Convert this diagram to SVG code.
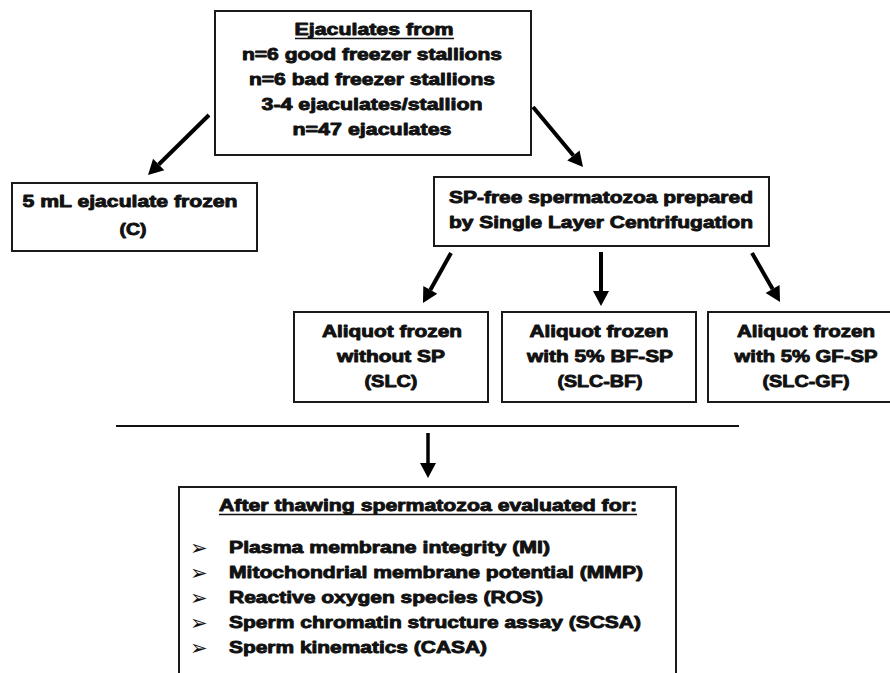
<svg xmlns="http://www.w3.org/2000/svg" width="890" height="673" viewBox="0 0 890 673">
<style>
.box{fill:#fff;stroke:#1a1a1a;stroke-width:2}
.t{font-family:"Liberation Sans",Arial,sans-serif;font-weight:bold;font-size:17px;fill:#111;stroke:#111;stroke-width:0.9;stroke-linejoin:round;text-anchor:middle}
.l{text-anchor:start}
.u{stroke:#111;stroke-width:1.6}
.arr{stroke:#000;stroke-width:4;fill:none;marker-end:url(#head)}
.bul{font-family:"DejaVu Sans",sans-serif;font-size:21px;fill:#111}
</style>
<defs>
<marker id="head" markerUnits="userSpaceOnUse" markerWidth="16" markerHeight="18" refX="0" refY="8" viewBox="0 -1 16 18" orient="auto" overflow="visible">
<path d="M0,0 L15,8 L0,16 z" fill="#000"/>
</marker>
</defs>
<rect width="890" height="673" fill="#fff"/>

<g id="source">
<rect class="box" x="215" y="11" width="316" height="144"/>
<text class="t" x="374" y="35" textLength="159" lengthAdjust="spacingAndGlyphs">Ejaculates from</text>
<line class="u" x1="295" y1="38.5" x2="454" y2="38.5"/>
<text class="t" x="372" y="60" textLength="260" lengthAdjust="spacingAndGlyphs">n=6 good freezer stallions</text>
<text class="t" x="372" y="85" textLength="246" lengthAdjust="spacingAndGlyphs">n=6 bad freezer stallions</text>
<text class="t" x="372" y="110" textLength="221" lengthAdjust="spacingAndGlyphs">3-4 ejaculates/stallion</text>
<text class="t" x="372" y="135" textLength="159" lengthAdjust="spacingAndGlyphs">n=47 ejaculates</text>
</g>

<g id="control">
<rect class="box" x="12" y="183" width="245" height="68"/>
<text class="t" x="130" y="207" textLength="215" lengthAdjust="spacingAndGlyphs">5 mL ejaculate frozen</text>
<text class="t" x="133" y="235" textLength="27" lengthAdjust="spacingAndGlyphs">(C)</text>
</g>

<g id="slc-prep">
<rect class="box" x="434" y="177" width="335" height="69"/>
<text class="t" x="601" y="203" textLength="304" lengthAdjust="spacingAndGlyphs">SP-free spermatozoa prepared</text>
<text class="t" x="601" y="228" textLength="304" lengthAdjust="spacingAndGlyphs">by Single Layer Centrifugation</text>
</g>

<g id="slc">
<rect class="box" x="294" y="312" width="194" height="90"/>
<text class="t" x="392" y="337" textLength="140" lengthAdjust="spacingAndGlyphs">Aliquot frozen</text>
<text class="t" x="391" y="362" textLength="108" lengthAdjust="spacingAndGlyphs">without SP</text>
<text class="t" x="391" y="387" textLength="53" lengthAdjust="spacingAndGlyphs">(SLC)</text>
</g>

<g id="slc-bf">
<rect class="box" x="502" y="312" width="194" height="90"/>
<text class="t" x="599" y="337" textLength="139" lengthAdjust="spacingAndGlyphs">Aliquot frozen</text>
<text class="t" x="600" y="362" textLength="146" lengthAdjust="spacingAndGlyphs">with 5% BF-SP</text>
<text class="t" x="600" y="387" textLength="85" lengthAdjust="spacingAndGlyphs">(SLC-BF)</text>
</g>

<g id="slc-gf">
<rect class="box" x="708" y="312" width="196" height="90"/>
<text class="t" x="806" y="337" textLength="138" lengthAdjust="spacingAndGlyphs">Aliquot frozen</text>
<text class="t" x="806" y="362" textLength="143" lengthAdjust="spacingAndGlyphs">with 5% GF-SP</text>
<text class="t" x="806" y="387" textLength="87" lengthAdjust="spacingAndGlyphs">(SLC-GF)</text>
</g>

<g id="evaluation">
<rect class="box" x="179" y="487" width="497" height="220"/>
<text class="t" x="428" y="511" textLength="418" lengthAdjust="spacingAndGlyphs">After thawing spermatozoa evaluated for:</text>
<line class="u" x1="219" y1="514.5" x2="637" y2="514.5"/>
<text class="bul" x="190" y="555">➢</text>
<text class="bul" x="190" y="580">➢</text>
<text class="bul" x="190" y="605">➢</text>
<text class="bul" x="190" y="630">➢</text>
<text class="bul" x="190" y="655">➢</text>
<text class="t l" x="229" y="553" textLength="321" lengthAdjust="spacingAndGlyphs">Plasma membrane integrity (MI)</text>
<text class="t l" x="229" y="578" textLength="414" lengthAdjust="spacingAndGlyphs">Mitochondrial membrane potential (MMP)</text>
<text class="t l" x="229" y="603" textLength="314" lengthAdjust="spacingAndGlyphs">Reactive oxygen species (ROS)</text>
<text class="t l" x="229" y="628" textLength="412" lengthAdjust="spacingAndGlyphs">Sperm chromatin structure assay (SCSA)</text>
<text class="t l" x="229" y="653" textLength="258" lengthAdjust="spacingAndGlyphs">Sperm kinematics (CASA)</text>
</g>

<g id="connectors">
<line class="arr" x1="209" y1="115" x2="158.7" y2="164.5"/>
<line class="arr" x1="533" y1="107" x2="573.4" y2="155.5"/>
<line class="arr" x1="451" y1="253" x2="430.3" y2="289.9"/>
<line class="arr" x1="601" y1="252" x2="601" y2="291"/>
<line class="arr" x1="752" y1="253" x2="772.6" y2="289"/>
<line x1="116" y1="426" x2="739" y2="426" stroke="#111" stroke-width="2"/>
<line class="arr" x1="428" y1="433" x2="428" y2="463" style="stroke-width:3.5"/>
</g>
</svg>
